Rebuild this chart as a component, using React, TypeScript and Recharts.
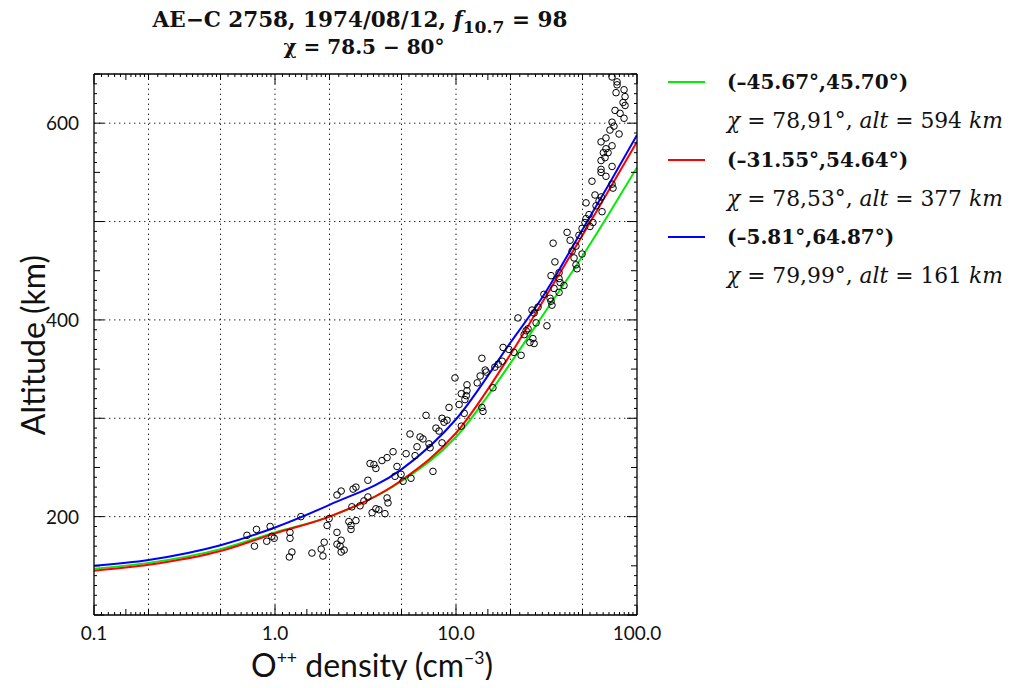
import React from 'react';
import { ComposedChart, Scatter, Line, XAxis, YAxis, ReferenceLine } from 'recharts';

// ---------------- data ----------------
const CURVE_DENSITY = [0.1, 0.2, 0.5, 1, 2, 5, 10, 20, 30, 50, 70, 100];
const GREEN_ALT = [147, 153, 167, 184, 200, 236, 281, 356, 404, 465, 508, 555];
const RED_ALT = [145, 151, 165, 183, 200, 237, 285, 365, 418, 486, 532, 581];
const BLUE_ALT = [150, 156, 171, 189, 212, 248, 299, 377, 423, 492, 538, 588];

const OBS_DENSITY = [
  0.70, 0.79, 0.94, 0.77, 0.90, 0.96, 0.99, 1.21, 1.21, 1.24, 1.20, 1.39, 1.60, 1.80, 1.87, 1.84, 1.94, 1.99,
  2.20, 2.20, 2.32, 2.29, 2.32, 2.41, 2.20, 2.32, 2.56, 2.63, 2.80, 2.63, 2.66, 2.95, 3.10, 3.26, 2.70, 2.80,
  3.44, 3.61, 3.75, 4.05, 4.16, 4.21, 3.26, 3.35, 3.52, 3.61, 3.90, 4.16, 4.49, 4.72, 4.60, 4.97, 5.10, 5.64,
  5.30, 5.57, 5.94, 6.09, 6.33, 6.57, 7.09, 7.19, 7.46, 8.37, 7.75, 8.06, 8.59, 8.92, 10.7, 6.83, 8.37, 9.15,
  9.87, 10.4, 10.7, 11.1, 11.2, 11.4, 11.5, 11.5, 13.1, 13.6, 13.9, 14.5, 14.7, 13.9, 14.1, 16.0, 16.4, 17.1,
  18.0, 18.2, 19.6, 20.9, 22.0, 22.9, 23.8, 24.4, 25.0, 25.6, 26.3, 26.6, 27.0, 27.0, 28.4, 27.7,
  31.8, 30.6, 33.1, 33.5, 33.9, 33.5, 34.8, 35.2, 34.4, 37.1, 37.1, 37.6, 39.5, 37.1, 41.1, 42.7, 43.8, 44.9,
  46.0, 46.0, 46.6, 49.7, 47.8, 49.7, 51.6, 52.3, 52.3, 54.3, 55.0, 57.1, 59.4, 64.1, 61.7, 58.6, 63.5, 56.4,
  73.7, 72.8, 67.4, 63.3, 63.3, 72.8, 63.3, 66.6, 69.2, 65.2, 72.8, 67.4, 63.3, 67.4, 79.6, 70.9, 74.6, 72.8,
  84.8, 80.6, 75.6, 85.9, 83.7, 85.9, 84.8, 76.6, 77.6, 77.6, 72.8,
];
const OBS_ALT = [
  181, 187, 190, 170, 175, 180, 178, 184, 178, 164, 159, 200, 163, 167, 174, 160, 191, 198,
  184, 172, 176, 170, 164, 166, 222, 226, 195, 191, 196, 187, 210, 211, 216, 220, 228, 230,
  204, 208, 207, 203, 219, 214, 237, 254, 253, 249, 257, 260, 266, 251, 241, 243, 236, 239,
  264, 284, 262, 271, 281, 279, 274, 270, 246, 275, 290, 287, 296, 298, 292, 303, 300, 311,
  341, 314, 325, 305, 319, 323, 328, 334, 336, 343, 361, 349, 347, 311, 307, 331, 352, 355,
  358, 372, 370, 367, 402, 364, 385, 389, 391, 377, 410, 381, 376, 407, 413, 397,
  394, 426, 422, 419, 415, 445, 432, 459, 478, 448, 442, 438, 435, 428, 489, 481, 470, 463,
  475, 456, 452, 467, 486, 493, 499, 503, 519, 507, 495, 499, 516, 510, 521, 527, 525, 541,
  534, 538, 546, 550, 553, 556, 562, 565, 570, 570, 577, 574, 581, 585, 589, 593, 597, 601,
  605, 610, 613, 618, 621, 627, 634, 631, 639, 642, 647,
];

const SERIES_COLORS = ['#00ee00', '#ff0000', '#0000ff'];
const SERIES_COORDS = ['(–45.67°,45.70°)', '(–31.55°,54.64°)', '(–5.81°,64.87°)'];
const SERIES_CHI = ['78,91°', '78,53°', '79,99°'];
const SERIES_ALT_KM = ['594', '377', '161'];

const X_DOMAIN = [0.1, 100];
const Y_DOMAIN = [100, 650];
const X_MAJOR = [0.1, 1, 10, 100];
const X_MAJOR_LABELS = ['0.1', '1.0', '10.0', '100.0'];
const X_MEDIUM = [0.15, 0.2, 0.5, 1.5, 2, 5, 15, 20, 50];
const X_GRID = [0.2, 0.5, 1, 2, 5, 10, 20, 50];
const X_MINOR_MANTISSA = [1.1, 1.2, 1.3, 1.4, 1.6, 1.7, 1.8, 1.9, 2.25, 2.5, 2.75, 3, 3.25, 3.5, 3.75, 4, 4.25, 4.5, 4.75, 5.5, 6, 6.5, 7, 7.5, 8, 8.5, 9, 9.5];
const DECADES = [0.1, 1, 10];
const Y_LABELED = [200, 400, 600];
const Y_GRID = [200, 300, 400, 500, 600];
const Y_MAJOR = [100, 200, 300, 400, 500, 600];
const Y_MEDIUM = [150, 250, 350, 450, 550, 650];
const Y_MINOR_STEP = 10;

// ---------------- derived tables ----------------
const makeCurve = (alts: number[]) => CURVE_DENSITY.map((x, i) => ({ x, y: alts[i] }));
const greenData = makeCurve(GREEN_ALT);
const redData = makeCurve(RED_ALT);
const blueData = makeCurve(BLUE_ALT);
const obsData = OBS_DENSITY.map((x, i) => ({ x, y: OBS_ALT[i] }));

const X_TICKS = [
  ...X_MAJOR,
  ...X_MEDIUM,
  ...DECADES.flatMap((d) => X_MINOR_MANTISSA.map((m) => d * m)),
].sort((a, b) => a - b);
const Y_TICKS: number[] = [];
for (let v = Y_DOMAIN[0]; v <= Y_DOMAIN[1]; v += Y_MINOR_STEP) Y_TICKS.push(v);

const isIn = (v: number, arr: number[]) => arr.findIndex((t) => Math.abs(v - t) < 1e-6 * Math.max(1, Math.abs(t)));
const xLen = (v: number) => (isIn(v, X_MAJOR) >= 0 ? 10 : isIn(v, X_MEDIUM) >= 0 ? 6 : 3);
const yLen = (v: number) => (isIn(v, Y_MAJOR) >= 0 ? 10 : isIn(v, Y_MEDIUM) >= 0 ? 6 : 3);

const TICK_FONT = 'Lato, "Open Sans", sans-serif';

const BottomTick = (p: any) => {
  const v = p.payload.value;
  const idx = isIn(v, X_MAJOR);
  return (
    <g>
      <line x1={p.x} y1={p.y} x2={p.x} y2={p.y - xLen(v)} stroke="#000" strokeWidth={1} />
      {idx >= 0 && (
        <text x={p.x} y={p.y + 25} textAnchor="middle" fontFamily={TICK_FONT} fontSize={19} fill="#111">
          {X_MAJOR_LABELS[idx]}
        </text>
      )}
    </g>
  );
};
const TopTick = (p: any) => (
  <line x1={p.x} y1={p.y} x2={p.x} y2={p.y + xLen(p.payload.value)} stroke="#000" strokeWidth={1} />
);
const LeftTick = (p: any) => {
  const v = p.payload.value;
  const idx = isIn(v, Y_LABELED);
  return (
    <g>
      <line x1={p.x} y1={p.y} x2={p.x + yLen(v)} y2={p.y} stroke="#000" strokeWidth={1} />
      {idx >= 0 && (
        <text x={p.x - 15} y={p.y + 7} textAnchor="end" fontFamily={TICK_FONT} fontSize={19} fill="#111">
          {String(Y_LABELED[idx])}
        </text>
      )}
    </g>
  );
};
const RightTick = (p: any) => (
  <line x1={p.x} y1={p.y} x2={p.x - yLen(p.payload.value)} y2={p.y} stroke="#000" strokeWidth={1} />
);

const Circle = (p: any) => <circle cx={p.cx} cy={p.cy} r={3.3} fill="none" stroke="#000" strokeWidth={1} />;

const SERIF = '"DejaVu Serif", serif';

export default function App() {
  const W = 1003;
  const H = 672;
  const axisCommon = {
    type: 'number' as const,
    tickSize: 0,
    tickMargin: 0,
    tickLine: false,
    interval: 0 as const,
    allowDataOverflow: true,
    axisLine: { stroke: '#000', strokeWidth: 1.3 },
  };
  return (
    <div style={{ position: 'relative', width: W, height: H, background: '#fff' }}>
      <ComposedChart width={W} height={H} margin={{ top: 65, left: 85, right: 373, bottom: 64 }}>
        <XAxis xAxisId="xb" dataKey="x" orientation="bottom" scale="log" domain={X_DOMAIN} ticks={X_TICKS} height={1} tick={<BottomTick />} {...axisCommon} />
        <XAxis xAxisId="xt" dataKey="x" orientation="top" scale="log" domain={X_DOMAIN} ticks={X_TICKS} height={1} tick={<TopTick />} {...axisCommon} />
        <YAxis yAxisId="yl" dataKey="y" orientation="left" domain={Y_DOMAIN} ticks={Y_TICKS} width={1} tick={<LeftTick />} {...axisCommon} />
        <YAxis yAxisId="yr" dataKey="y" orientation="right" domain={Y_DOMAIN} ticks={Y_TICKS} width={1} tick={<RightTick />} {...axisCommon} />
        {X_GRID.map((v) => (
          <ReferenceLine key={'gx' + v} xAxisId="xb" yAxisId="yl" x={v} stroke="#222" strokeWidth={1} strokeDasharray="1.4 3.6" />
        ))}
        {Y_GRID.map((v) => (
          <ReferenceLine key={'gy' + v} xAxisId="xb" yAxisId="yl" y={v} stroke="#222" strokeWidth={1} strokeDasharray="1.4 3.6" />
        ))}
        <Scatter xAxisId="xb" yAxisId="yl" data={obsData} dataKey="y" shape={<Circle />} isAnimationActive={false} />
        <Line xAxisId="xt" yAxisId="yr" data={greenData} dataKey="y" type="monotone" stroke="none" dot={false} isAnimationActive={false} />
        <Line xAxisId="xb" yAxisId="yl" data={greenData} dataKey="y" type="monotone" stroke={SERIES_COLORS[0]} strokeWidth={2} dot={false} isAnimationActive={false} />
        <Line xAxisId="xb" yAxisId="yl" data={redData} dataKey="y" type="monotone" stroke={SERIES_COLORS[1]} strokeWidth={2} dot={false} isAnimationActive={false} />
        <Line xAxisId="xb" yAxisId="yl" data={blueData} dataKey="y" type="monotone" stroke={SERIES_COLORS[2]} strokeWidth={2} dot={false} isAnimationActive={false} />
      </ComposedChart>

      {/* title */}
      <div style={{ position: 'absolute', left: 352, top: 0, transform: 'translateX(-50%)', whiteSpace: 'nowrap', fontFamily: SERIF, fontWeight: 'bold', fontSize: 21.5, lineHeight: '24px', color: '#111' }}>
        AE−C 2758, 1974/08/12, <i>f</i>
        <span style={{ fontSize: '0.8em', position: 'relative', top: '0.35em' }}>10.7</span> = 98
      </div>
      <div style={{ position: 'absolute', left: 356, top: 27, transform: 'translateX(-50%)', whiteSpace: 'nowrap', fontFamily: SERIF, fontWeight: 'bold', fontSize: 20, lineHeight: '24px', color: '#111' }}>
        χ = 78.5 − 80°
      </div>

      {/* legend */}
      {SERIES_COORDS.map((name, i) => (
        <React.Fragment key={name}>
          <div style={{ position: 'absolute', left: 660, top: 73 + i * 77.5, width: 37, height: 2, background: SERIES_COLORS[i] }} />
          <div style={{ position: 'absolute', left: 719, top: 62 + i * 77.5, whiteSpace: 'nowrap', fontFamily: SERIF, fontWeight: 'bold', fontSize: 20, lineHeight: '24px', color: '#111' }}>
            {name}
          </div>
          <div style={{ position: 'absolute', left: 719, top: 101 + i * 77.5, whiteSpace: 'nowrap', fontFamily: SERIF, fontSize: 21.8, lineHeight: '24px', color: '#111' }}>
            <i>χ</i> = {SERIES_CHI[i]}, <i>alt</i> = {SERIES_ALT_KM[i]} <i>km</i>
          </div>
        </React.Fragment>
      ))}

      {/* axis labels */}
      <div style={{ position: 'absolute', left: 24, top: 337, transform: 'translate(-50%, -50%) rotate(-90deg)', whiteSpace: 'nowrap', fontFamily: TICK_FONT, fontSize: 32, color: '#111' }}>
        Altitude (km)
      </div>
      <div style={{ position: 'absolute', left: 364, top: 656, transform: 'translate(-50%, -50%)', whiteSpace: 'nowrap', fontFamily: TICK_FONT, fontSize: 32, color: '#111' }}>
        O<span style={{ fontSize: '0.55em', position: 'relative', top: '-0.75em' }}>++</span> density (cm<span style={{ fontSize: '0.55em', position: 'relative', top: '-0.75em' }}>−3</span>)
      </div>
    </div>
  );
}
